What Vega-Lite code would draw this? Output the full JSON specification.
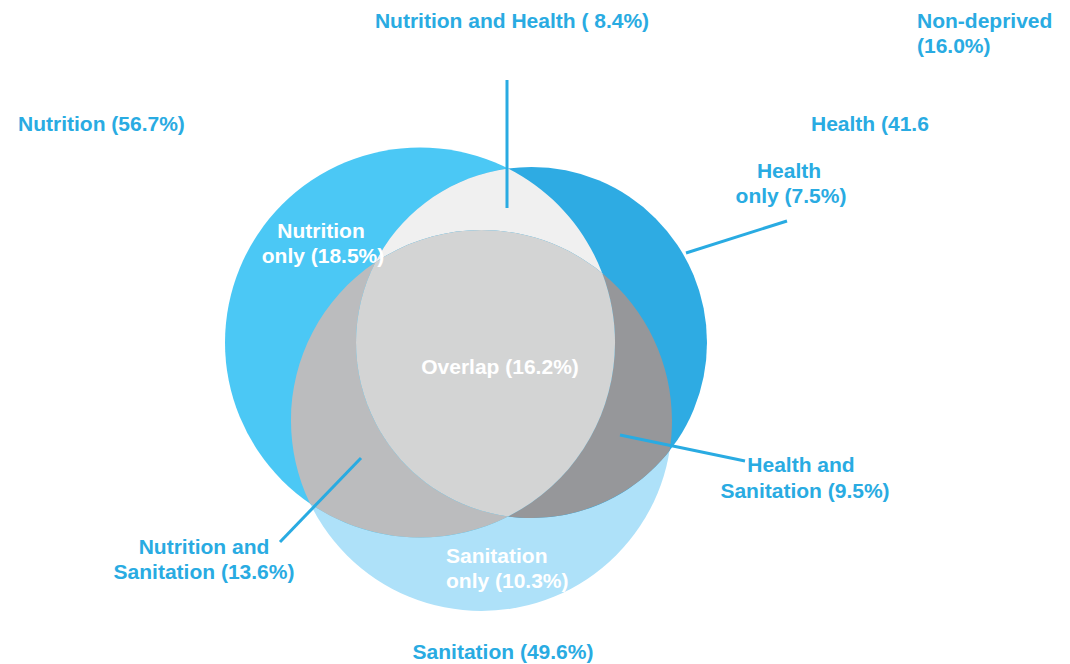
{
  "$schema": "https://vega.github.io/schema/vega-lite/v6.json",
  "width": 1070,
  "height": 664,
  "padding": 0,
  "autosize": {"type": "none"},
  "background": "white",
  "config": {
    "view": {"stroke": null},
    "text": {"font": "Liberation Sans", "fontWeight": "bold", "fontSize": 21}
  },
  "datasets": {
    "sets": [
      {"set": "Sanitation", "cx": 481.5, "cy": 420.5, "r": 190.5},
      {"set": "Nutrition", "cx": 420, "cy": 342.5, "r": 195},
      {"set": "Health", "cx": 531.5, "cy": 342.5, "r": 175.5}
    ],
    "regions": [
      {"region": "Nutrition and Health only", "share": 8.4, "ox": 481.5, "oy": 420.5},
      {"region": "Nutrition and Sanitation only", "share": 13.6, "ox": 481.5, "oy": 420.5},
      {"region": "Health and Sanitation only", "share": 9.5, "ox": 481.5, "oy": 420.5},
      {"region": "Overlap", "share": 16.2, "ox": 481.5, "oy": 420.5}
    ],
    "leaders": [
      {"label": "Nutrition and Health", "x1": 507, "y1": 80, "x2": 507, "y2": 208},
      {"label": "Health only", "x1": 686, "y1": 253, "x2": 787, "y2": 221},
      {"label": "Health and Sanitation", "x1": 620, "y1": 435, "x2": 745, "y2": 461},
      {"label": "Nutrition and Sanitation", "x1": 361, "y1": 458, "x2": 280, "y2": 542}
    ],
    "labels": [
      {"text": "Nutrition and Health ( 8.4%)", "x": 512, "y": 28, "anchor": "center", "place": "outside"},
      {"text": "Health", "x": 789, "y": 178, "anchor": "center", "place": "outside"},
      {"text": "only (7.5%)", "x": 791, "y": 203, "anchor": "center", "place": "outside"},
      {"text": "Nutrition", "x": 321, "y": 238, "anchor": "center", "place": "inside"},
      {"text": "only (18.5%)", "x": 323, "y": 263, "anchor": "center", "place": "inside"},
      {"text": "Overlap (16.2%)", "x": 500, "y": 374, "anchor": "center", "place": "inside"},
      {"text": "Health and", "x": 801, "y": 472, "anchor": "center", "place": "outside"},
      {"text": "Sanitation (9.5%)", "x": 805, "y": 498, "anchor": "center", "place": "outside"},
      {"text": "Nutrition and", "x": 204, "y": 554, "anchor": "center", "place": "outside"},
      {"text": "Sanitation (13.6%)", "x": 204, "y": 579, "anchor": "center", "place": "outside"},
      {"text": "Sanitation (49.6%)", "x": 503, "y": 659, "anchor": "center", "place": "outside"},
      {"text": "Non-deprived", "x": 917, "y": 28, "anchor": "left", "place": "outside"},
      {"text": "(16.0%)", "x": 917, "y": 53, "anchor": "left", "place": "outside"},
      {"text": "Nutrition (56.7%)", "x": 18, "y": 131, "anchor": "left", "place": "outside"},
      {"text": "Health (41.6", "x": 811, "y": 131, "anchor": "left", "place": "outside"},
      {"text": "Sanitation", "x": 446, "y": 563, "anchor": "left", "place": "inside"},
      {"text": "only (10.3%)", "x": 446, "y": 588, "anchor": "left", "place": "inside"}
    ]
  },
  "resolve": {"scale": {"color": "independent", "shape": "independent", "size": "independent"}},
  "layer": [
    {
      "data": {"name": "sets"},
      "mark": {"type": "circle", "opacity": 1, "strokeWidth": 0},
      "encoding": {
        "x": {"field": "cx", "type": "quantitative", "scale": {"domain": [0, 1070], "nice": false, "zero": false}, "axis": null},
        "y": {"field": "cy", "type": "quantitative", "scale": {"domain": [0, 664], "nice": false, "zero": false, "reverse": true}, "axis": null},
        "size": {"field": "r", "type": "quantitative", "scale": {"type": "pow", "exponent": 2, "domain": [0, 200], "range": [0, 160000]}, "legend": null},
        "color": {"field": "set", "type": "nominal", "scale": {"domain": ["Nutrition", "Health", "Sanitation"], "range": ["#4BC8F5", "#2EABE3", "#AEE1F9"]}, "legend": null}
      }
    },
    {
      "data": {"name": "regions"},
      "mark": {"type": "point", "filled": true, "opacity": 1, "strokeWidth": 0, "size": 4},
      "encoding": {
        "x": {"field": "ox", "type": "quantitative", "axis": null},
        "y": {"field": "oy", "type": "quantitative", "axis": null},
        "shape": {
          "field": "region", "type": "nominal", "legend": null,
          "scale": {
            "domain": ["Nutrition and Health only", "Nutrition and Sanitation only", "Health and Sanitation only", "Overlap"],
            "range": [
              "M 26.65 -251.94 A 175.5 175.5 0 0 0 -106.09 -158.23 A 190.5 190.5 0 0 1 120.76 -147.32 A 195 195 0 0 0 26.65 -251.94 Z",
              "M -106.09 -158.23 A 190.5 190.5 0 0 0 -171.44 83.04 A 195 195 0 0 0 26.65 95.94 A 175.5 175.5 0 0 1 -106.09 -158.23 Z",
              "M 120.76 -147.32 A 190.5 190.5 0 0 1 188.07 30.35 A 175.5 175.5 0 0 1 26.65 95.94 A 195 195 0 0 0 120.76 -147.32 Z",
              "M -106.09 -158.23 A 190.5 190.5 0 0 1 120.76 -147.32 A 195 195 0 0 1 26.65 95.94 A 175.5 175.5 0 0 1 -106.09 -158.23 Z"
            ]
          }
        },
        "color": {
          "field": "region", "type": "nominal", "legend": null,
          "scale": {
            "domain": ["Nutrition and Health only", "Nutrition and Sanitation only", "Health and Sanitation only", "Overlap"],
            "range": ["#F0F0F0", "#BBBCBE", "#96979A", "#D3D4D4"]
          }
        }
      }
    },
    {
      "data": {"name": "leaders"},
      "mark": {"type": "rule", "color": "#29ABE2", "strokeWidth": 3},
      "encoding": {
        "x": {"field": "x1", "type": "quantitative", "axis": null},
        "y": {"field": "y1", "type": "quantitative", "axis": null},
        "x2": {"field": "x2"},
        "y2": {"field": "y2"}
      }
    },
    {
      "data": {"name": "labels"},
      "transform": [{"filter": "datum.anchor === 'center'"}],
      "mark": {"type": "text", "align": "center", "baseline": "alphabetic"},
      "encoding": {
        "x": {"field": "x", "type": "quantitative", "axis": null},
        "y": {"field": "y", "type": "quantitative", "axis": null},
        "text": {"field": "text"},
        "color": {"field": "place", "type": "nominal", "legend": null, "scale": {"domain": ["outside", "inside"], "range": ["#29ABE2", "#FFFFFF"]}}
      }
    },
    {
      "data": {"name": "labels"},
      "transform": [{"filter": "datum.anchor === 'left'"}],
      "mark": {"type": "text", "align": "left", "baseline": "alphabetic"},
      "encoding": {
        "x": {"field": "x", "type": "quantitative", "axis": null},
        "y": {"field": "y", "type": "quantitative", "axis": null},
        "text": {"field": "text"},
        "color": {"field": "place", "type": "nominal", "legend": null, "scale": {"domain": ["outside", "inside"], "range": ["#29ABE2", "#FFFFFF"]}}
      }
    }
  ]
}
